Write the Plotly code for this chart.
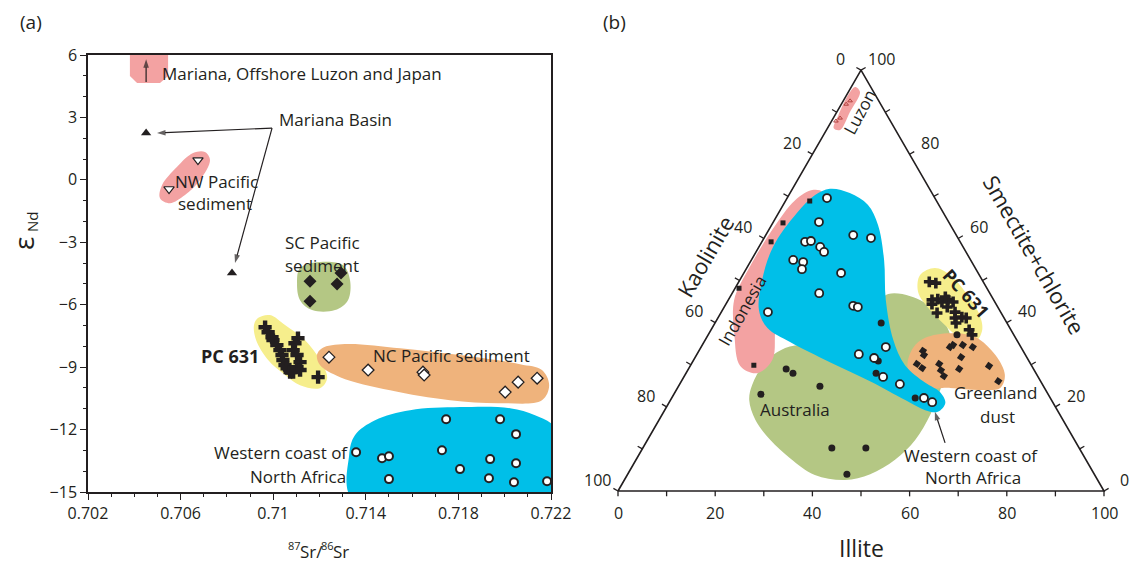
import numpy as np
import plotly.graph_objects as go

FONT = "Open Sans"
INK = "#231f20"
PINK = "#f3a2a2"
GREEN = "#b4c784"
YELLOW = "#f6ee8c"
ORANGE = "#efb37c"
BLUE = "#00bfe8"
W, H = 1135, 564

# ---------------- Panel (a): 87Sr/86Sr vs eNd ----------------
mariana_basin_sr = [0.70451, 0.70822]
mariana_basin_nd = [2.25, -4.48]

nw_pacific_sr = [0.70550, 0.70675]
nw_pacific_nd = [-0.44, 0.95]

sc_pacific_sr = [0.71159, 0.71276, 0.71293, 0.71159]
sc_pacific_nd = [-4.87, -5.01, -4.48, -5.83]

pc631_sr = [0.70965, 0.70978, 0.70995, 0.70999, 0.71016, 0.71029, 0.71038, 0.71042,
            0.71051, 0.71060, 0.71073, 0.71107, 0.71094, 0.71086, 0.71103, 0.71116,
            0.71103, 0.71116, 0.71086, 0.71194]
pc631_nd = [-7.08, -7.32, -7.56, -7.70, -7.94, -8.18, -8.42, -8.66,
            -8.90, -9.05, -9.24, -7.61, -7.85, -8.18, -8.42, -8.76,
            -9.00, -9.14, -9.24, -9.48]

nc_pacific_sr = [0.71241, 0.71410, 0.71647, 0.71652, 0.72002, 0.72058, 0.72140]
nc_pacific_nd = [-8.52, -9.14, -9.24, -9.38, -10.20, -9.72, -9.53]

nafrica_sr = [0.71358, 0.71470, 0.71500, 0.71500, 0.71747, 0.71729, 0.71807,
              0.71937, 0.71932, 0.71980, 0.72049, 0.72049, 0.72040, 0.72183]
nafrica_nd = [-13.09, -13.38, -13.28, -14.38, -11.50, -12.99, -13.90,
              -13.42, -14.34, -11.50, -12.22, -13.62, -14.53, -14.48]

# source-field outlines (Sr, Nd)
field_japan_sr = [0.70381, 0.70546, 0.70546, 0.70511, 0.70412, 0.70381]
field_japan_nd = [6.30, 6.30, 4.99, 4.65, 4.65, 4.99]
field_nw_sr = [0.70705, 0.70727, 0.70684, 0.70619, 0.70554, 0.70511, 0.70520, 0.70584, 0.70654]
field_nw_nd = [1.34, 0.95, -0.01, -0.73, -1.12, -0.88, -0.25, 0.62, 1.29]
field_sc_sr = [0.71116, 0.71202, 0.71302, 0.71332, 0.71323, 0.71267, 0.71168, 0.71116, 0.71103]
field_sc_nd = [-4.24, -3.95, -4.10, -4.82, -5.78, -6.26, -6.26, -5.78, -4.96]
field_pc_sr = [0.70934, 0.70986, 0.71051, 0.71137, 0.71202, 0.71233, 0.71202, 0.71116,
               0.71051, 0.70978, 0.70926, 0.70917]
field_pc_nd = [-6.64, -6.50, -6.98, -7.70, -8.66, -9.53, -10.01, -9.87,
               -9.38, -8.66, -7.70, -6.98]
field_nc_sr = [0.71211, 0.71310, 0.71548, 0.71807, 0.72066, 0.72161, 0.72192, 0.72161,
               0.71980, 0.71764, 0.71505, 0.71289, 0.71202, 0.71189]
field_nc_nd = [-8.09, -7.89, -8.09, -8.42, -8.86, -9.14, -9.87, -10.59,
               -10.73, -10.59, -10.11, -9.48, -8.90, -8.42]
field_af_sr = [0.71345, 0.71328, 0.71353, 0.71440, 0.71591, 0.71807, 0.72023, 0.72131, 0.72217, 0.72239]
field_af_nd = [-15.39, -13.23, -12.27, -11.55, -11.07, -10.92, -10.97, -11.31, -11.93, -15.39]

sr_ticks = [0.702, 0.706, 0.710, 0.714, 0.718, 0.722]
sr_ticktext = ["0.702", "0.706", "0.71", "0.714", "0.718", "0.722"]
nd_ticks = [6, 3, 0, -3, -6, -9, -12, -15]

# ---------------- Panel (b): clay mineral ternary (illite %, smectite+chlorite %) ----------------
luzon_ill = [0.9, 1.4, 1.0, 1.4]
luzon_sme = [87.9, 88.6, 91.9, 92.7]

indonesia_ill = [5.0, 2.1, 1.9, 0.8, 13.0]
indonesia_sme = [68.9, 63.7, 59.2, 48.2, 29.9]

nafrica_ill = [8.2, 9.4, 18.0, 22.0, 8.9, 10.0, 12.6, 14.0, 8.6, 10.9, 11.5, 20.0,
               17.9, 26.4, 27.5, 9.6, 38.0, 33.3, 36.9, 41.0, 45.3, 51.9, 54.1]
nafrica_sme = [69.6, 63.9, 60.8, 60.1, 59.2, 59.4, 58.0, 56.8, 54.9, 54.4, 52.7, 51.8,
               47.0, 44.0, 43.7, 42.5, 34.2, 32.5, 31.6, 27.1, 25.4, 22.1, 21.1]

australia_ill = [34.2, 38.1, 39.1, 50.1, 51.2, 20.1, 22.0, 29.1, 17.9, 38.9, 45.9, 45.1]
australia_sme = [39.9, 30.9, 28.0, 22.1, 37.1, 29.0, 28.0, 24.9, 23.0, 10.2, 10.2, 4.0]

pc631_ill = [39.2, 40.7, 41.9, 42.4, 44.2, 45.2, 46.5, 45.9, 44.5, 48.1, 48.8, 50.1,
             51.1, 49.6, 53.1, 54.3, 44.3, 43.0]
pc631_sme = [49.7, 49.4, 45.4, 44.4, 44.9, 45.4, 44.9, 43.7, 42.3, 42.5, 41.1, 41.3,
             41.1, 39.9, 38.3, 37.1, 46.1, 45.6]

greenland_ill = [46.1, 46.8, 46.4, 48.0, 51.0, 52.1, 53.4, 51.2, 51.6, 54.7, 53.6, 55.9, 55.7, 61.5, 65.2]
greenland_sme = [33.3, 32.3, 30.2, 29.2, 30.2, 28.7, 27.3, 34.2, 34.7, 31.8, 34.7, 34.2, 29.0, 29.7, 26.1]

# ternary field outlines (illite, smectite+chlorite)
tfield_luzon_ill = [0.8, 2.4, 2.7, 2.8, 1.3, 0.7, 0.3]
tfield_luzon_sme = [96.0, 94.8, 90.0, 85.8, 86.2, 89.3, 94.1]
tfield_indo_ill = [4.2, 6.5, 6.4, 8.3, 13.2, 16.2, 14.6, 10.3, 5.4, 1.2, 0.5, 0.7, 1.9]
tfield_indo_sme = [71.5, 71.0, 62.0, 50.1, 38.3, 31.1, 28.0, 29.7, 37.1, 45.4, 52.5, 62.0, 69.1]
tfield_aus_ill = [15.0, 15.0, 17.4, 25.7, 30.8, 32.2, 37.0, 43.7, 49.8, 52.8, 54.3, 55.2,
                  55.1, 53.3, 49.9, 45.4, 38.6, 31.5, 25.3, 19.8, 16.2]
tfield_aus_sme = [25.2, 30.6, 34.0, 35.9, 44.2, 46.8, 46.3, 43.0, 37.1, 31.1, 24.0, 18.1,
                  12.1, 7.4, 4.0, 2.6, 3.8, 7.8, 12.1, 16.9, 21.6]
tfield_af_ill = [7.7, 12.3, 17.4, 21.9, 27.3, 32.4, 38.7, 44.1, 50.4, 54.5, 56.9, 56.4,
                 53.6, 48.3, 38.8, 28.3, 17.7, 11.4, 7.5, 4.6, 2.9, 3.8, 5.4]
tfield_af_sme = [71.8, 70.8, 68.0, 63.2, 54.9, 45.4, 35.9, 29.9, 25.7, 23.5, 20.9, 18.8,
                 19.2, 21.6, 26.1, 30.6, 35.4, 38.7, 43.0, 50.1, 58.0, 66.1, 70.3]
tfield_pc_ill = [38.7, 42.7, 47.8, 52.9, 55.8, 55.8, 52.9, 47.6, 42.1, 38.1, 36.5]
tfield_pc_sme = [53.0, 51.3, 47.3, 42.5, 38.3, 35.4, 35.9, 39.4, 43.5, 47.3, 51.3]
tfield_gl_ill = [45.0, 49.6, 55.2, 61.5, 65.8, 66.4, 62.5, 56.1, 51.0, 47.3, 44.6, 43.7]
tfield_gl_sme = [36.4, 37.5, 36.6, 32.3, 27.6, 24.5, 24.0, 24.5, 24.5, 26.4, 29.9, 34.0]

tern_ticks = [0, 20, 40, 60, 80, 100]
tern_minor = [10, 30, 50, 70, 90]

SQ3 = np.sqrt(3) / 2


def tern_xy(ill, sme):
    """Illite / smectite+chlorite percentages -> planar triangle coordinates."""
    ill = np.asarray(ill, float)
    sme = np.asarray(sme, float)
    return ill + sme / 2, sme * SQ3


def closed(a):
    return list(a) + [a[0]]


fig = go.Figure()


def add_field(xs, ys, color, xa="x", ya="y", spline=True):
    fig.add_trace(go.Scatter(
        x=closed(xs), y=closed(ys), mode="lines", fill="toself", fillcolor=color,
        line=dict(width=0, color=color, shape="spline" if spline else "linear", smoothing=1.0),
        xaxis=xa, yaxis=ya, hoverinfo="skip", showlegend=False))


def add_pts(xs, ys, symbol, size, fill, edge=INK, lw=0.0, xa="x", ya="y", angle=0, name=None):
    fig.add_trace(go.Scatter(
        x=xs, y=ys, mode="markers", name=name, xaxis=xa, yaxis=ya, showlegend=False,
        marker=dict(symbol=symbol, size=size, color=fill, angle=angle,
                    line=dict(color=edge, width=lw))))


def add_arrow(x0, y0, x1, y1, xa="x", ya="y"):
    """Leader line from (x0, y0) with an arrowhead at (x1, y1)."""
    fig.add_trace(go.Scatter(
        x=[x0, x1], y=[y0, y1], mode="lines+markers", xaxis=xa, yaxis=ya,
        line=dict(color=INK, width=1.2), cliponaxis=False,
        marker=dict(symbol="arrow", angleref="previous", size=[0, 9], color=INK,
                    line=dict(width=0)),
        hoverinfo="skip", showlegend=False))


# ---- panel (a) fields and samples ----
add_field(field_japan_sr, field_japan_nd, PINK, spline=False)
add_field(field_nw_sr, field_nw_nd, PINK)
add_field(field_sc_sr, field_sc_nd, GREEN)
add_field(field_pc_sr, field_pc_nd, YELLOW)
add_field(field_nc_sr, field_nc_nd, ORANGE)
add_field(field_af_sr, field_af_nd, BLUE)

add_arrow(0.70451, 4.70, 0.70451, 5.80)
add_arrow(0.70995, 2.49, 0.70498, 2.25)
add_arrow(0.70995, 2.49, 0.70835, -4.00)

add_pts(mariana_basin_sr, mariana_basin_nd, "triangle-up", 9, INK, name="Mariana Basin")
add_pts(nw_pacific_sr, nw_pacific_nd, "triangle-down", 9, "white", lw=1.2, name="NW Pacific")
add_pts(sc_pacific_sr, sc_pacific_nd, "diamond", 10, INK, name="SC Pacific")
add_pts(pc631_sr, pc631_nd, "cross", 11, INK, name="PC 631")
add_pts(nc_pacific_sr, nc_pacific_nd, "diamond", 9, "white", lw=1.3, name="NC Pacific")
add_pts(nafrica_sr, nafrica_nd, "circle", 8, "white", lw=2.0, name="N Africa")

# ---- panel (b) fields and samples ----
def add_tfield(ill, sme, color):
    xs, ys = tern_xy(ill, sme)
    add_field(list(xs), list(ys), color, xa="x2", ya="y2")


add_tfield(tfield_aus_ill, tfield_aus_sme, GREEN)
add_tfield(tfield_indo_ill, tfield_indo_sme, PINK)
add_tfield(tfield_luzon_ill, tfield_luzon_sme, PINK)
add_tfield(tfield_pc_ill, tfield_pc_sme, YELLOW)
add_tfield(tfield_gl_ill, tfield_gl_sme, ORANGE)
add_tfield(tfield_af_ill, tfield_af_sme, BLUE)

# triangle frame and ticks
fx, fy = tern_xy([0, 100, 0, 0], [0, 0, 100, 0])
fig.add_trace(go.Scatter(x=fx, y=fy, mode="lines", line=dict(color=INK, width=1.6),
                         xaxis="x2", yaxis="y2", hoverinfo="skip", showlegend=False))

tick_len = 1.1
tx, ty = [], []
for v in tern_ticks + tern_minor:
    # bottom edge (illite)
    bx, by = tern_xy([v], [0])
    tx += [bx[0], bx[0], None]
    ty += [by[0], by[0] - tick_len, None]
    # left edge (kaolinite, illite = 0)
    lx, ly = tern_xy([0], [100 - v])
    tx += [lx[0], lx[0] - tick_len * SQ3, None]
    ty += [ly[0], ly[0] + tick_len * 0.5, None]
    # right edge (smectite+chlorite, kaolinite = 0)
    rx, ry = tern_xy([100 - v], [v])
    tx += [rx[0], rx[0] + tick_len * SQ3, None]
    ty += [ry[0], ry[0] + tick_len * 0.5, None]
fig.add_trace(go.Scatter(x=tx, y=ty, mode="lines", line=dict(color=INK, width=1.3),
                         xaxis="x2", yaxis="y2", hoverinfo="skip", showlegend=False))


def add_tpts(ill, sme, symbol, size, fill, lw=0.0, angle=0, name=None):
    xs, ys = tern_xy(ill, sme)
    add_pts(list(xs), list(ys), symbol, size, fill, lw=lw, xa="x2", ya="y2", angle=angle, name=name)


add_tpts(luzon_ill, luzon_sme, "triangle-up-open", 4, "#b0413e", name="Luzon")
add_tpts(indonesia_ill, indonesia_sme, "square", 5, INK, name="Indonesia")
add_tpts(australia_ill, australia_sme, "circle", 7, INK, name="Australia")
add_tpts(nafrica_ill, nafrica_sme, "circle", 8, "white", lw=1.8, name="N Africa")
add_tpts(greenland_ill, greenland_sme, "square", 6, INK, angle=35, name="Greenland")
add_tpts(pc631_ill, pc631_sme, "cross", 9, INK, name="PC 631")

add_arrow(67.3, 9.9, 65.2, 16.3, xa="x2", ya="y2")

# ---------------- text ----------------
ann = []
LBL = 17


def label(x, y, text, size=LBL, xref="x", yref="y", angle=0, xanchor="center", bold=False):
    if bold:
        text = "<b>" + text + "</b>"
    ann.append(dict(x=x, y=y, xref=xref, yref=yref, text=text, showarrow=False,
                    textangle=angle, xanchor=xanchor, yanchor="middle",
                    font=dict(family=FONT, size=size, color=INK)))


def px_label(px, py, text, size, angle=0, xanchor="center"):
    """Text placed in figure pixel coordinates."""
    label(px / W, 1 - py / H, text, size=size, xref="paper", yref="paper",
          angle=angle, xanchor=xanchor)


# panel (a)
label(0.70511, 5.09, "Mariana, Offshore Luzon and Japan", xanchor="left")
label(0.71016, 2.92, "Mariana Basin", xanchor="left")
label(0.70753, -0.06, "NW Pacific")
label(0.70749, -1.16, "sediment")
label(0.71211, -2.99, "SC Pacific")
label(0.71211, -4.10, "sediment")
label(0.70813, -8.47, "PC 631", size=18, bold=True)
label(0.71772, -8.42, "NC Pacific sediment")
label(0.71034, -13.09, "Western coast of")
label(0.71107, -14.24, "North Africa")

# panel (b)
label(49.8, 78.0, "Luzon", xref="x2", yref="y2", angle=-62)
label(25.5, 37.2, "Indonesia", xref="x2", yref="y2", angle=-60)
label(71.6, 40.7, "PC 631", size=18, xref="x2", yref="y2", angle=48, bold=True)
label(77.6, 20.2, "Greenland", xref="x2", yref="y2")
label(78.0, 15.4, "dust", xref="x2", yref="y2")
label(36.4, 16.7, "Australia", xref="x2", yref="y2")
label(72.6, 7.4, "Western coast of", xref="x2", yref="y2")
label(73.0, 2.7, "North Africa", xref="x2", yref="y2")

for v in tern_ticks:
    bx, by = tern_xy([v], [0])
    label(bx[0], by[0] - 4.5, str(v), size=16, xref="x2", yref="y2")
    lx, ly = tern_xy([0], [100 - v])
    label(lx[0] - 4.3, ly[0] + 2.3, str(v), size=16, xref="x2", yref="y2")
    rx, ry = tern_xy([100 - v], [v])
    label(rx[0] + 4.2, ry[0] + 2.3, str(v), size=16, xref="x2", yref="y2")

label(17.9, 48.4, "Kaolinite", size=22, xref="x2", yref="y2", angle=-60)
label(85.8, 48.6, "Smectite+chlorite", size=22, xref="x2", yref="y2", angle=60)
label(50.0, -11.7, "Illite", size=23, xref="x2", yref="y2")

# panel letters
px_label(31, 22, "(a)", 19)
px_label(614, 22, "(b)", 19)

# y title: epsilon with subscript Nd (rotated)
px_label(23, 244, "ε", 28, angle=-90)
px_label(32, 222, "Nd", 15, angle=-90)

# x title: 87Sr/86Sr with raised mass numbers
px_label(286, 545, "87", 11, xanchor="left")
px_label(298, 551, "Sr/", 17, xanchor="left")
px_label(319, 545, "86", 11, xanchor="left")
px_label(331, 551, "Sr", 17, xanchor="left")

axis_common = dict(showline=True, linecolor=INK, linewidth=1.5, mirror=True,
                   ticks="outside", ticklen=6, tickwidth=1.3, tickcolor=INK,
                   showgrid=False, zeroline=False, automargin=False,
                   tickfont=dict(family=FONT, size=16, color=INK))

fig.update_layout(
    width=W, height=H,
    margin=dict(l=0, r=0, t=0, b=0, autoexpand=False),
    paper_bgcolor="white", plot_bgcolor="white",
    showlegend=False,
    xaxis=dict(domain=[88 / W, 551 / W], range=[0.702, 0.722],
               tickmode="array", tickvals=sr_ticks, ticktext=sr_ticktext,
               minor=dict(ticks="outside", ticklen=3, tickwidth=1.2, tickcolor=INK, dtick=0.001,
                          tick0=0.702, showgrid=False),
               **axis_common),
    yaxis=dict(domain=[72 / H, 509 / H], range=[-15, 6],
               tickmode="array", tickvals=nd_ticks,
               minor=dict(ticks="outside", ticklen=3, tickwidth=1.2, tickcolor=INK, dtick=1,
                          tick0=0, showgrid=False),
               **axis_common),
    xaxis2=dict(domain=[0.5, 1.0], range=[(567.5 - 618) / 4.86, (W - 618) / 4.86],
                visible=False, fixedrange=True, automargin=False),
    yaxis2=dict(domain=[0.0, 1.0], range=[(491 - H) / 4.86, 491 / 4.86],
                visible=False, fixedrange=True, automargin=False),
    annotations=ann,
)

fig.write_html("out.html")
